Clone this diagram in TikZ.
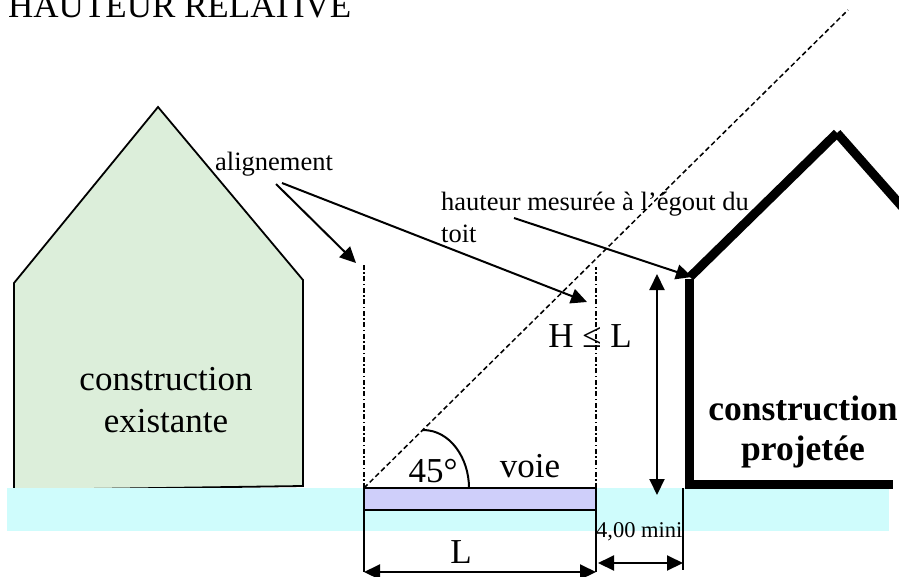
\documentclass[tikz,border=0pt]{standalone}
\usepackage{fontspec}
\setmainfont{Liberation Serif}
\usetikzlibrary{arrows.meta}
\definecolor{vert}{HTML}{DCEEDA}
\definecolor{eau}{HTML}{CFFCFC}
\definecolor{mauve}{HTML}{CFCFFA}
\tikzset{
  big/.style={anchor=base,inner sep=0pt,font=\fontsize{35}{35}\selectfont},
  small/.style={anchor=base west,inner sep=0pt,font=\fontsize{26.5}{26.5}\selectfont},
  line/.style={line width=2pt},
  thickwall/.style={line width=9pt,line cap=butt,line join=miter}
}
\begin{document}
\begin{tikzpicture}[x=1pt,y=-1pt,>={Triangle[length=16pt,width=15pt]}]
\useasboundingbox (0,0) rectangle (899,576);
\draw[fill=vert,line width=1.8pt] (158,107) -- (303,280) -- (303,486) -- (14,490) -- (14,283) -- cycle;
\fill[eau] (7,488) rectangle (889,531);
\draw[fill=mauve,line width=2pt] (364,488) rectangle (596,510);
\draw[thickwall] (690,277) -- (837,133);
\draw[thickwall] (837,133) -- (905,210);
\draw[thickwall] (689,279) -- (689,488);
\draw[thickwall] (685,484) -- (893,484);
\coordinate (voieA) at (364,488);
\coordinate (voieB) at (596,488);
\coordinate (voieC) at (364,572);
\coordinate (voieD) at (596,572);
\coordinate (alignA) at (364,263);
\coordinate (alignB) at (596,267);
\coordinate (pente) at (848,10);
\coordinate (arcA) at (423,430);
\coordinate (arcB) at (469,488);
\coordinate (miniA) at (683,488);
\coordinate (miniB) at (683,570);
\coordinate (hautA) at (657,274);
\coordinate (hautB) at (657,495);
\draw[dash pattern=on 5pt off 2.5pt on 1.5pt off 2.5pt,line width=1.2pt] (voieA) -- (alignA);
\draw[dash pattern=on 5pt off 2.5pt on 1.5pt off 2.5pt,line width=1.2pt] (voieB) -- (alignB);
\draw[dash pattern=on 5pt off 3pt,line width=1.5pt] (voieA) -- (pente);
\draw[line] (arcA) .. controls (450,430) and (469,458) .. (arcB);
\draw[line] (364,510) -- (voieC);
\draw[line] (596,510) -- (voieD);
\draw[line] (miniA) -- (miniB);
\draw[line,<->] (voieC) -- (voieD);
\draw[line,<->] (598,563) -- (683,563);
\draw[line,<->] (hautA) -- (hautB);
\node (titre) at (8,17) [small,font=\fontsize{35}{35}\selectfont] {HAUTEUR RELATIVE};
\node (alignement) at (215,170) [small] {alignement};
\node (hauteur) at (441,210) [small] {hauteur mesurée à l’égout du};
\node (toit) at (441,242) [small] {toit};
\node (existA) at (166,390) [big] {construction};
\node (existB) at (166,432) [big] {existante};
\node (projA) at (803,420) [big,font=\fontsize{35.5}{35.5}\selectfont\bfseries] {construction};
\node (projB) at (803,460) [big,font=\fontsize{35.5}{35.5}\selectfont\bfseries] {projetée};
\node (hl) at (590,347) [big] {H ≤ L};
\node (angle) at (433,482) [big] {45°};
\node (voie) at (530,477) [big] {voie};
\node (largeur) at (461,563) [big] {L};
\node (mini) at (596,537) [anchor=base west,inner sep=0pt,font=\fontsize{22.5}{22.5}\selectfont] {4,00 mini};
\coordinate (flecheA) at (276,184);
\coordinate (flecheB) at (282,183);
\coordinate (flecheC) at (514,218);
\draw[line,->] (flecheA) -- (356,263);
\draw[line,->] (flecheB) -- (587,302);
\draw[line,->] (flecheC) -- (692,277);
\end{tikzpicture}
\end{document}
